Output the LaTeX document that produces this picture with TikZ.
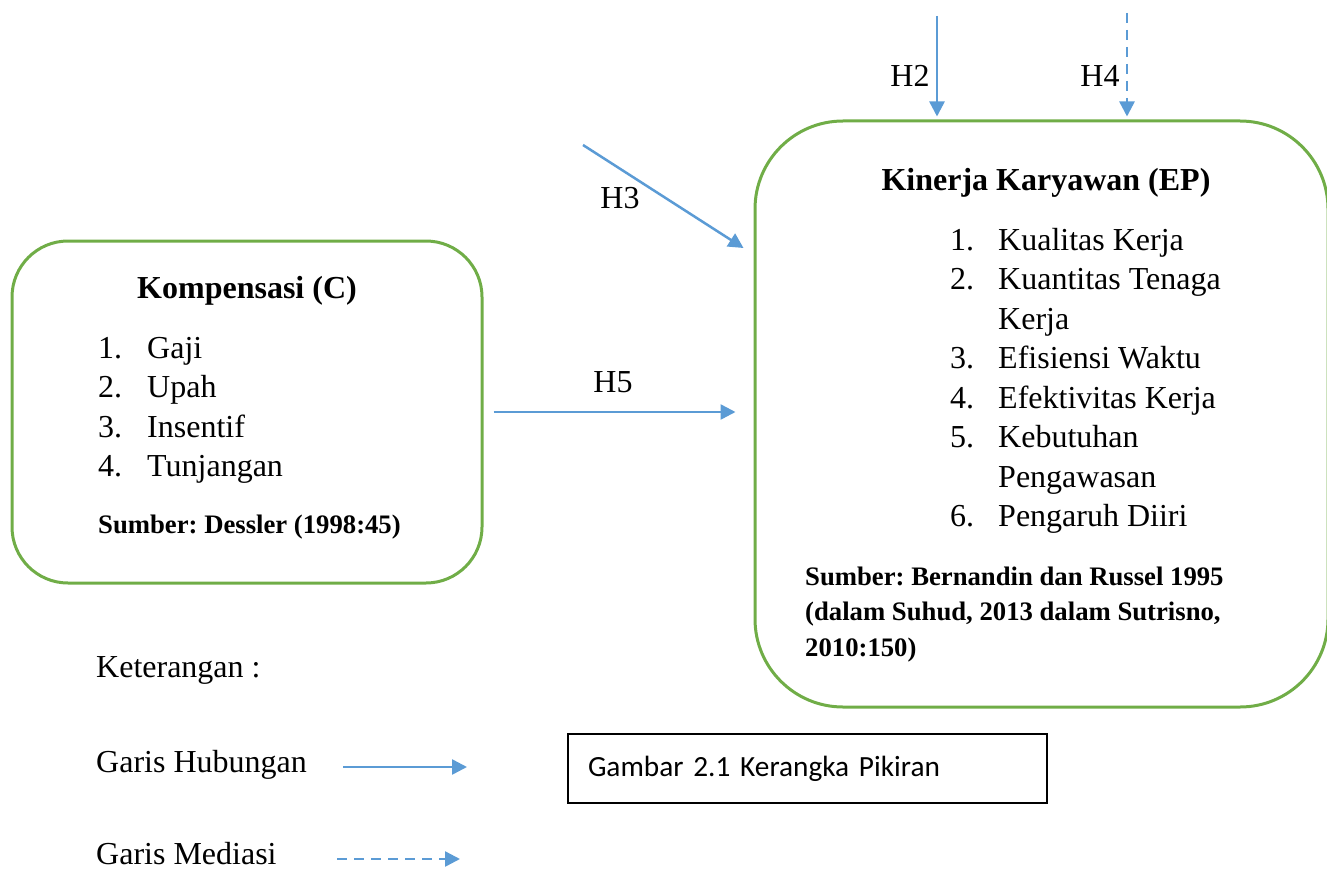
\documentclass[tikz,border=0pt]{standalone}
\usepackage{fontspec}
\setmainfont{Liberation Serif}
\newfontfamily\calibri[WordSpace=0.7]{Carlito}
\usetikzlibrary{positioning,arrows.meta}
\definecolor{hijau}{RGB}{112,173,71}
\definecolor{biru}{RGB}{91,155,213}
\newcommand\isifont{\fontsize{32}{39.5}\selectfont}
\newcommand\sumberfont{\fontsize{26.7}{35.5}\selectfont\bfseries}
\frenchspacing

\begin{document}
\begin{tikzpicture}[
  x=1pt, y=1pt,
  box/.style={draw=hijau, line width=3pt, rounded corners=#1},
  teks/.style={inner sep=0pt, anchor=base west, font=\isifont},
  judul/.style={inner sep=0pt, anchor=base, font=\isifont\bfseries},
  sumber/.style={inner sep=0pt, anchor=base west, font=\sumberfont},
  label/.style={inner sep=0pt, anchor=base, font=\isifont},
  arrow/.style={-{Triangle[length=15pt,width=15pt]}, draw=biru, line width=2.5pt},
  mediasi/.style={arrow, dash pattern=on 10pt off 7pt}
]
\useasboundingbox (0,0) rectangle (1327,-869);

% kotak variabel
\node[box=56pt, minimum width=470pt, minimum height=342pt] (kompensasi) at (247,-412) {};
\node[box=88pt, minimum width=573pt, minimum height=586pt] (kinerja) at (1041.5,-414) {};

\node[judul] (judulC) at (247,-298) {Kompensasi (C)};
\node[teks] (listC) at (98,-358) {\begin{tabular}[t]{@{}p{49pt}@{}l@{}}
1.&Gaji\\ 2.&Upah\\ 3.&Insentif\\ 4.&Tunjangan\end{tabular}};
\node[sumber] (sumberC) at (98,-533) {Sumber: Dessler (1998:45)};

\node[judul] (judulEP) at (1046,-190) {Kinerja Karyawan (EP)};
\node[teks] (listEP) at (950,-250) {\begin{tabular}[t]{@{}p{48pt}@{}l@{}}
1.&Kualitas Kerja\\ 2.&Kuantitas Tenaga\\ &Kerja\\ 3.&Efisiensi Waktu\\
4.&Efektivitas Kerja\\ 5.&Kebutuhan\\ &Pengawasan\\ 6.&Pengaruh Diiri\end{tabular}};
\node[sumber] (sumberEP) at (805,-585) {\begin{tabular}[t]{@{}l@{}}
Sumber: Bernandin dan Russel 1995\\ (dalam Suhud, 2013 dalam Sutrisno,\\ 2010:150)\end{tabular}};

% hipotesis
\coordinate (h2) at (937,-16);
\coordinate (h4) at (1127,-13);
\coordinate (h3) at (583,-145);
\draw[arrow, shorten >=3pt] (h2) -- (h2 |- kinerja.north);
\draw[mediasi, shorten >=3pt] (h4) -- (h4 |- kinerja.north);
\draw[arrow] (h3) -- ([shift={(-10pt,166pt)}]kinerja.west);
\draw[arrow, shorten <=10pt, shorten >=18pt] (kompensasi.east) -- (kompensasi.east -| kinerja.west);
\node[label] (H2) at (910,-87) {H2};
\node[label] (H4) at (1100,-87) {H4};
\node[label] (H3) at (620,-208) {H3};
\node[label] (H5) at (613,-392) {H5};

% keterangan
\node[teks] (ket) at (96,-677) {Keterangan :};
\node[teks] (hubungan) at (96,-772) {Garis Hubungan};
\node[teks] (garismediasi) at (96,-864) {Garis Mediasi};
\coordinate (hubA) at (343,-767);
\coordinate (hubB) at (467,-767);
\coordinate (medA) at (337,-859);
\coordinate (medB) at (460,-859);
\draw[arrow] (hubA) -- (hubB);
\draw[mediasi] (medA) -- (medB);

\node[draw, line width=2pt, minimum width=479pt, minimum height=69pt, text width=439pt,
  align=left, font=\calibri\fontsize{29.3}{35}\selectfont] (gambar) at (807.5,-768.5) {Gambar 2.1 Kerangka Pikiran};
\end{tikzpicture}
\end{document}
